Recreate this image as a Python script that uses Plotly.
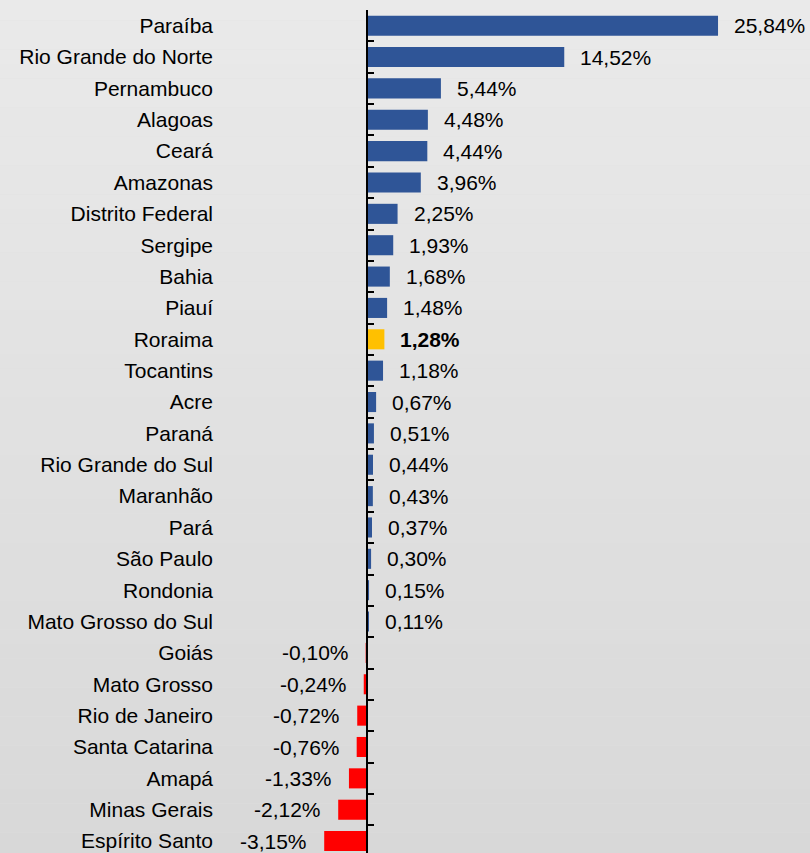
import plotly.graph_objects as go

states = ["Paraíba", "Rio Grande do Norte", "Pernambuco", "Alagoas", "Ceará", "Amazonas",
          "Distrito Federal", "Sergipe", "Bahia", "Piauí", "Roraima", "Tocantins", "Acre",
          "Paraná", "Rio Grande do Sul", "Maranhão", "Pará", "São Paulo", "Rondonia",
          "Mato Grosso do Sul", "Goiás", "Mato Grosso", "Rio de Janeiro", "Santa Catarina",
          "Amapá", "Minas Gerais", "Espírito Santo"]
values = [25.84, 14.52, 5.44, 4.48, 4.44, 3.96, 2.25, 1.93, 1.68, 1.48, 1.28, 1.18, 0.67,
          0.51, 0.44, 0.43, 0.37, 0.30, 0.15, 0.11, -0.10, -0.24, -0.72, -0.76, -1.33,
          -2.12, -3.15]
highlight = "Roraima"

BLUE = "#2F5597"
YELLOW = "#FFC000"
RED = "#FF0000"

colors = [YELLOW if s == highlight else (BLUE if v >= 0 else RED) for s, v in zip(states, values)]
labels = [f"{v:.2f}".replace(".", ",") + "%" for v in values]

W, H = 810, 853
ML, MR, MT, MB = 216, 0, 10, 0
FONT = "Liberation Sans, Arial, sans-serif"
FS = 21

xmin, xmax = -11.116, 32.61
zero_pos = (0 - xmin) / (xmax - xmin)
n = len(states)
yrange = [n - 0.62, -0.5]

fig = go.Figure()
fig.add_trace(go.Bar(
    x=values, y=states, orientation="h",
    marker=dict(color=colors, line=dict(width=0)),
    width=0.64, hoverinfo="x+y", showlegend=False,
))
fig.add_trace(go.Scatter(
    x=[0] * n, y=states, yaxis="y2", mode="markers",
    marker=dict(opacity=0), hoverinfo="skip", showlegend=False,
))

for s, v, lab in zip(states, values, labels):
    txt = f"<b>{lab}</b>" if s == highlight else lab
    fig.add_annotation(
        x=v, y=s, text=txt, showarrow=False,
        xanchor="left" if v >= 0 else "right",
        xshift=14 if v >= 0 else -15,
        font=dict(family=FONT, size=FS, color="#000000"),
    )

# background gradient
N = 60
top_c, bot_c = 234, 216
y_top = 1 + MT / (H - MT - MB) + 0.01
y_bot = -0.01
for i in range(N):
    y1 = y_top - (y_top - y_bot) * i / N
    y0 = y_top - (y_top - y_bot) * (i + 1) / N
    c = round(top_c + (bot_c - top_c) * (i + 0.5) / N)
    fig.add_shape(type="rect", xref="paper", yref="paper",
                  x0=-0.5, x1=1.5, y0=y0, y1=y1,
                  fillcolor=f"rgb({c},{c},{c})", line=dict(width=0), layer="below")

fig.update_layout(
    width=W, height=H,
    margin=dict(l=ML, r=MR, t=MT, b=MB, pad=0),
    paper_bgcolor="#e0e0e0",
    plot_bgcolor="rgba(0,0,0,0)",
    font=dict(family=FONT, size=FS, color="#000000"),
    bargap=0.36,
    xaxis=dict(range=[xmin, xmax], visible=False, fixedrange=True),
    yaxis=dict(type="category", categoryarray=states, categoryorder="array",
               range=yrange, showline=False, ticks="", showgrid=False, zeroline=False,
               ticklabelstandoff=2,
               tickfont=dict(family=FONT, size=FS, color="#000000")),
    yaxis2=dict(type="category", categoryarray=states, categoryorder="array",
                range=yrange, overlaying="y", anchor="free", position=zero_pos,
                side="left", showline=True, linecolor="#000000", linewidth=1.5,
                ticks="inside", ticklen=6, tickwidth=1.5, tickcolor="#000000",
                tickson="boundaries", showticklabels=False, showgrid=False,
                zeroline=False),
)

fig.write_html("out.html", config={"displayModeBar": False},
               post_script="document.body.style.margin='0';document.body.style.overflow='hidden';")
